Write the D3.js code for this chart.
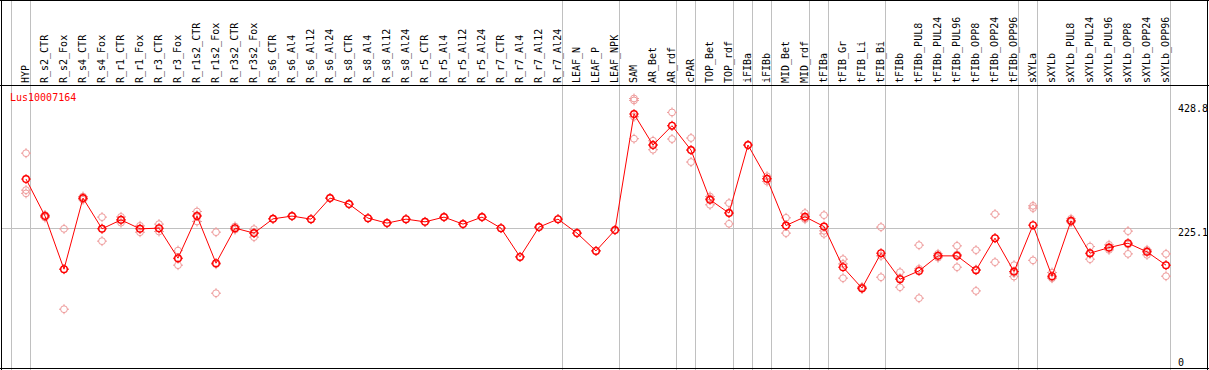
<!DOCTYPE html>
<html><head><meta charset="utf-8">
<script src="https://cdn.jsdelivr.net/npm/d3@7"></script>
<style>body{margin:0;background:#fff}svg{display:block}text{font-family:"DejaVu Sans Mono",monospace;font-size:10px}</style>
</head><body><svg id="c" width="1209" height="370"></svg>
<script>
const title = "Lus10007164";
const categories = ["HYP","R_s2_CTR","R_s2_Fox","R_s4_CTR","R_s4_Fox","R_r1_CTR","R_r1_Fox","R_r3_CTR","R_r3_Fox","R_r1s2_CTR","R_r1s2_Fox","R_r3s2_CTR","R_r3s2_Fox","R_s6_CTR","R_s6_Al4","R_s6_Al12","R_s6_Al24","R_s8_CTR","R_s8_Al4","R_s8_Al12","R_s8_Al24","R_r5_CTR","R_r5_Al4","R_r5_Al12","R_r5_Al24","R_r7_CTR","R_r7_Al4","R_r7_Al12","R_r7_Al24","LEAF_N","LEAF_P","LEAF_NPK","SAM","AR_Bet","AR_rdf","cPAR","TOP_Bet","TOP_rdf","iFIBa","iFIBb","MID_Bet","MID_rdf","tFIBa","tFIB_Gr","tFIB_Li","tFIB_Bi","tFIBb","tFIBb_PUL8","tFIBb_PUL24","tFIBb_PUL96","tFIBb_OPP8","tFIBb_OPP24","tFIBb_OPP96","sXYLa","sXYLb","sXYLb_PUL8","sXYLb_PUL24","sXYLb_PUL96","sXYLb_OPP8","sXYLb_OPP24","sXYLb_OPP96"];
const means = [302.4,244.3,161.0,272.5,224.3,238.4,224.3,225.4,178.3,244.3,170.4,225.4,217.6,240.0,244.3,239.5,272.5,263.1,241.1,233.3,239.5,235.3,242.7,231.7,242.7,225.4,180.3,227.0,239.5,217.6,189.7,222.3,404.5,355.8,386.1,347.9,269.9,249.0,355.8,302.8,229.5,243.2,227.9,164.1,131.2,186.1,145.3,158.3,181.9,181.9,159.4,209.7,157.2,230.1,150.0,236.9,186.1,194.9,201.8,188.2,167.3];
const replicates = [
 [343,285,280],[242,246,245],[224.3,98.2,161],[275,270,272],[242.7,205,225],[243,234,238],[229,219,225],[231.7,220.1,224.5],[190.2,167.3,177.4],[251.5,235.8,245.6],[219.1,123.3,168.8],[228,223,225],[223.8,211.3,217.7],
 [240.0],[244.3],[239.5],[272.5],[263.1],[241.1],[233.3],[239.5],[235.3],[242.7],[231.7],[242.7],[225.4],[180.3],[227.0],[239.5],[217.6],[189.7],[222.3],
 [428.8,425.8,400.2,365.7],[362.5,348.4,356],[407,365.2,386],[366.8,329.1,348],[275,262,272],[264.7,232.2,250],[355.8],[298.6,303,306.8],[241.6,217.6,229],[249,239.5,241],[245.8,216.5,221.2],[176.7,146.9,169.3],[130,133,131],[227,181.9,148.4],
 [156.3,132.7,146.9],[198.7,115.5,161.5],[185,179,182],[197.6,164.1,184],[190.9,126.9,160.4],[247.4,172,209.7],[167.3,149.4,155],
 [260.4,256.8,174.9],[155.7,146.9,147.5],[240,235,236],[196.5,176.7,185],[199.2,191.3,194],[220.7,185,199.7],[191.3,183.5,189.8],[185,150,167]
];
const groupEnds = [-1,0,28,31,34,35,37,38,39,41,42,45,52,53,60];
const tickValues = [428.8,225.1,0];
const tickLabels = ["428.8","225.1","0"];
const gridValues = [225.1];

const W = 1209, H = 370, headerY = 85.5;
const svg = d3.select("#c");
const x = d3.scalePoint().domain(categories).range([26, 26 + 19*(categories.length-1)]);
const xi = i => 26 + 19*i;
const y = d3.scaleLinear().domain([0, 428.8]).range([371.8, 98.5]);

// group separators
svg.append("g").selectAll("line").data(groupEnds).join("line")
  .attr("x1", d => xi(d)+4.5).attr("x2", d => xi(d)+4.5)
  .attr("y1", 0).attr("y2", H).attr("stroke", "#c0c0c0").attr("stroke-width", 1);
// horizontal grid
svg.append("g").selectAll("line").data(gridValues).join("line")
  .attr("x1", 1).attr("x2", 1178)
  .attr("y1", d => Math.round(y(d))+0.5).attr("y2", d => Math.round(y(d))+0.5)
  .attr("stroke", "#c0c0c0");
// frame
const frame = svg.append("g").attr("stroke", "#000").attr("stroke-width", 1);
frame.append("line").attr("x1",0).attr("x2",W).attr("y1",0.5).attr("y2",0.5);
frame.append("line").attr("x1",0).attr("x2",W).attr("y1",headerY).attr("y2",headerY);
frame.append("line").attr("x1",1.5).attr("x2",1.5).attr("y1",0).attr("y2",H);
frame.append("line").attr("x1",W-1.5).attr("x2",W-1.5).attr("y1",0).attr("y2",H);
frame.append("line").attr("x1",0).attr("x2",W).attr("y1",H-1.5).attr("y2",H-1.5);

// category labels
svg.append("g").selectAll("text").data(categories).join("text")
  .attr("transform", d => `translate(${x(d)+2.5},83) rotate(-90)`)
  .attr("fill", "#000").text(d => d);

// title
svg.append("text").attr("x", 10).attr("y", 101).attr("fill", "#ff0000").text(title);

// axis labels
svg.append("g").selectAll("text").data(tickValues).join("text")
  .attr("x", 1178)
  .attr("y", d => Math.min(Math.max(y(d), 105), 359) + 7.3)
  .attr("fill", "#000").text((d,i) => tickLabels[i]);

function marker(g, cx, cy, color, sw, r) {
  g.append("circle").attr("cx", cx).attr("cy", cy).attr("r", r)
    .attr("fill", "none").attr("stroke", color).attr("stroke-width", sw);
  const t = r + 1.6;
  const p = `M${cx},${cy-t}V${cy-r+0.3}M${cx},${cy+r-0.3}V${cy+t}M${cx-t},${cy}H${cx-r+0.3}M${cx+r-0.3},${cy}H${cx+t}`;
  g.append("path").attr("d", p).attr("stroke", color).attr("stroke-width", 1).attr("fill","none");
}

// replicates
const rg = svg.append("g");
replicates.forEach((reps, i) => reps.forEach(v => marker(rg, x(categories[i]), y(v), "#ee9a9a", 1, 3.4)));

// mean line
svg.append("path").datum(means)
  .attr("d", d3.line().x((d,i) => x(categories[i])).y(d => y(d)))
  .attr("fill", "none").attr("stroke", "#ff0000").attr("stroke-width", 1);
const mg = svg.append("g");
means.forEach((v, i) => marker(mg, x(categories[i]), y(v), "#ff0000", 1.4, 3.3));
</script></body></html>
